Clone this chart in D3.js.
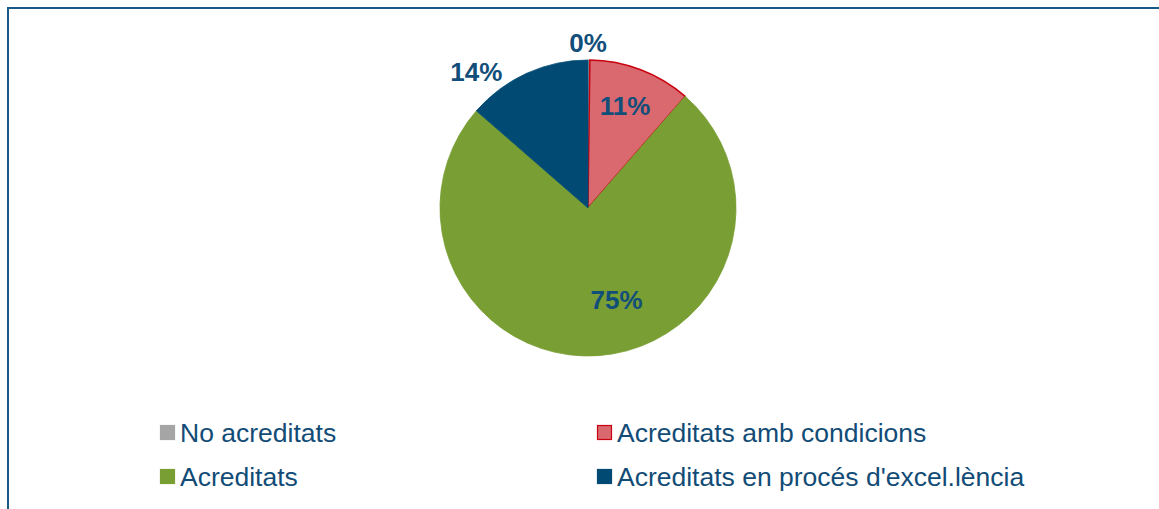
<!DOCTYPE html>
<html><head><meta charset="utf-8">
<script src="https://cdn.jsdelivr.net/npm/d3@7"></script>
<style>body{margin:0;background:#fff}svg{display:block}</style>
</head><body>
<svg id="c" width="1159" height="509"></svg>
<script>
const categories = ["No acreditats","Acreditats amb condicions","Acreditats","Acreditats en procés d'excel.lència"];
const values = [0.2, 11.2, 75.0, 13.6];
const colors = ["#a5a5a5","#d9696f","#789e34","#004a74"];
const strokes = ["#a5a5a5","#c8000f","#789e34","#004a74"];

const svg = d3.select("#c");
svg.append("path").attr("d","M8,509V8H1159").attr("fill","none").attr("stroke","#175a83").attr("stroke-width",2);

const cx = 588, cy = 208, r = 148;
const pie = d3.pie().sort(null).value(d=>d)(values);
const arc = d3.arc().innerRadius(0).outerRadius(r);
const g = svg.append("g").attr("transform",`translate(${cx},${cy})`);
g.selectAll("path").data(pie).join("path")
  .attr("d",arc).attr("fill",(d,i)=>colors[i])
  .attr("stroke",(d,i)=>strokes[i]).attr("stroke-width",(d,i)=>i===1?1.5:0.8);

const labelArc = [
  {k:1.12, dx:-1, dy:0},
  {k:0.76, dx:-3, dy:3},
  {k:0.645, dx:22, dy:-4},
  {k:1.12, dx:-43, dy:14}
];
const total = d3.sum(values);
g.selectAll("text").data(pie).join("text")
  .attr("transform",(d,i)=>{
    const L = labelArc[i];
    const p = d3.arc().innerRadius(r*L.k).outerRadius(r*L.k).centroid(d);
    return `translate(${p[0]+L.dx},${p[1]+L.dy})`;
  })
  .attr("text-anchor","middle").attr("dy","0.36em")
  .attr("font-family","Liberation Sans, Arial, sans-serif").attr("font-weight","bold")
  .attr("font-size",26).attr("fill","#124e7a")
  .text(d=>Math.round(d.data/total*100)+"%");

// legend
const legendPos = [[160,433],[597,433],[160,477],[597,477]];
const lg = svg.append("g").selectAll("g").data(categories).join("g")
  .attr("transform",(d,i)=>`translate(${legendPos[i][0]},${legendPos[i][1]})`);
lg.append("rect").attr("x",0.5).attr("y",-7.5).attr("width",14).attr("height",14)
  .attr("fill",(d,i)=>colors[i]).attr("stroke",(d,i)=>i===1?"#c8000f":colors[i]).attr("stroke-width",1.2);
lg.append("text").attr("x",20).attr("y",0).attr("dy","0.35em")
  .attr("font-family","Liberation Sans, Arial, sans-serif").attr("font-size",26.5)
  .attr("fill","#124c76").text(d=>d);
</script>
</body></html>
